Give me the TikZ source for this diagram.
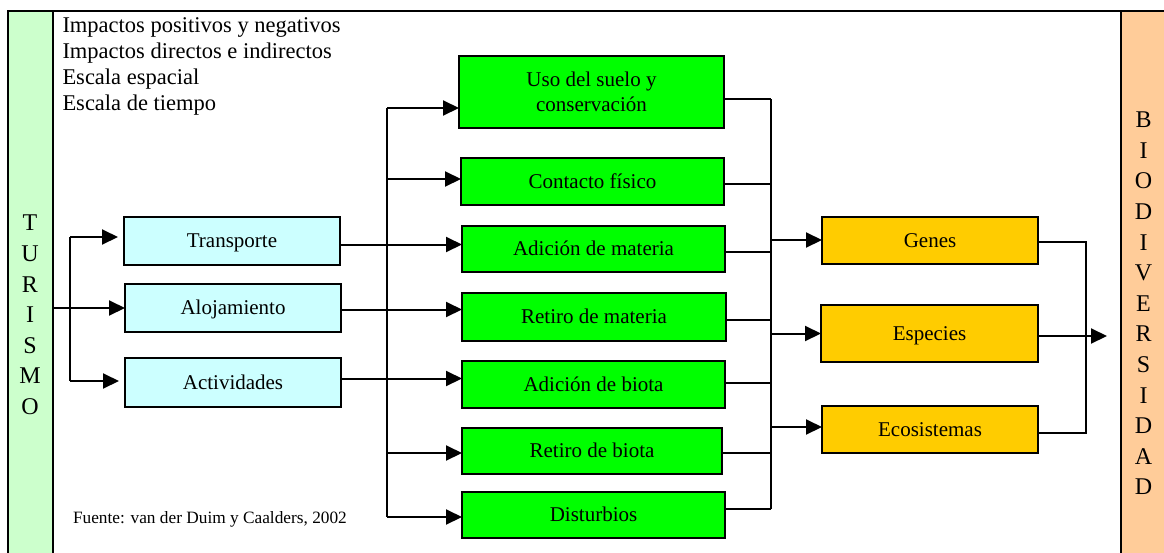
\documentclass[tikz,border=0pt]{standalone}
\usepackage{fontspec}
\setmainfont{Liberation Serif}
\usetikzlibrary{arrows.meta}
\definecolor{turgreen}{HTML}{CCFFCC}
\definecolor{actcyan}{HTML}{CCFFFF}
\definecolor{presgreen}{HTML}{00FF00}
\definecolor{levelgold}{HTML}{FFCC00}
\definecolor{bioorange}{HTML}{FFCC99}
\begin{document}
\begin{tikzpicture}[x=1pt,y=-1pt,
  every node/.style={inner sep=0pt, outer sep=0pt},
  box/.style={draw=black, line width=2pt, align=center, font=\fontsize{21}{25}\selectfont},
  oneline/.style={text height=13.9pt, text depth=0pt},
  actbox/.style={box, oneline, fill=actcyan},
  presbox/.style={box, fill=presgreen},
  levelbox/.style={box, oneline, fill=levelgold},
  band/.style={draw=black, line width=2.2pt, anchor=north west, minimum height=570pt},
  letters/.style={align=center, font=\fontsize{24}{30.6}\selectfont},
  headtext/.style={anchor=base west, font=\fontsize{22.5}{26}\selectfont},
  frame/.style={line width=2.2pt},
  conn/.style={line width=2pt},
  arr/.style={conn, -{Triangle[length=16pt,width=15pt]}},
]
\useasboundingbox (0,0) rectangle (1164,552);

% side bands
\node[band, fill=turgreen, minimum width=45pt] (turband) at (8,11) {};
\node[band, fill=bioorange, minimum width=70pt] (bioband) at (1121,11) {};
\draw[frame] (turband.north east) -- (bioband.north west);
\node[letters] (turlbl) at (30,315) {T\\U\\R\\I\\S\\M\\O};
\node[letters] (biolbl) at (1143.5,303.5) {B\\I\\O\\D\\I\\V\\E\\R\\S\\I\\D\\A\\D};

% header notes and source
\node[headtext] (h1) at (62.5,32.5) {Impactos positivos y negativos};
\node[headtext] (h2) at (62.5,58.5) {Impactos directos e indirectos};
\node[headtext] (h3) at (62.5,84.5) {Escala espacial};
\node[headtext] (h4) at (62.5,110.5) {Escala de tiempo};
\node[anchor=base west, font=\fontsize{17.3}{20}\selectfont] (src) at (73,523.3) {Fuente: van der Duim y Caalders, 2002};

% tourism components
\node[actbox, minimum width=216pt, minimum height=48pt] (trans) at (232,241) {Transporte};
\node[actbox, minimum width=216pt, minimum height=48pt] (alo) at (233,308) {Alojamiento};
\node[actbox, minimum width=216pt, minimum height=49pt] (act) at (233,382.5) {Actividades};

% pressures
\node[presbox, minimum width=265pt, minimum height=72pt] (uso) at (591.5,92) {Uso del suelo y\\conservación};
\node[presbox, oneline, minimum width=263pt, minimum height=47pt] (cont) at (592.5,181.5) {Contacto físico};
\node[presbox, oneline, minimum width=263pt, minimum height=46pt] (am) at (593.5,249) {Adición de materia};
\node[presbox, oneline, minimum width=264pt, minimum height=48pt] (rm) at (594,317) {Retiro de materia};
\node[presbox, oneline, minimum width=263pt, minimum height=47pt] (ab) at (593.5,384.5) {Adición de biota};
\node[presbox, oneline, minimum width=260pt, minimum height=46pt] (rb) at (592,451) {Retiro de biota};
\node[presbox, oneline, minimum width=263pt, minimum height=46pt] (dist) at (593.5,515) {Disturbios};

% biodiversity levels
\node[levelbox, minimum width=216pt, minimum height=47pt] (genes) at (930,240.5) {Genes};
\node[levelbox, minimum width=217pt, minimum height=57pt] (esp) at (929.5,333.5) {Especies};
\node[levelbox, minimum width=216pt, minimum height=47pt] (eco) at (930,429.5) {Ecosistemas};

% tourism -> components
\coordinate (lt) at (70,237);
\coordinate (lb) at (70,381);
\draw[arr] (turband.east |- alo.west) -- (alo.west);
\draw[conn] (lt) -- (lb);
\draw[arr, shorten >=6pt] (lt) -- (lt -| trans.west);
\draw[arr, shorten >=6pt] (lb) -- (lb -| act.west);

% components -> pressures
\coordinate (m1) at (387,108);
\coordinate (m2) at (387,179);
\coordinate (m3) at (387,244.5);
\coordinate (m4) at (387,309.5);
\coordinate (m5) at (387,378.5);
\coordinate (m6) at (387,453);
\coordinate (m7) at (387,517);
\draw[conn] (m1) -- (m7);
\draw[conn] (trans.east |- m3) -- (m3);
\draw[conn] (alo.east |- m4) -- (m4);
\draw[conn] (act.east |- m5) -- (m5);
\draw[arr] (m1) -- (m1 -| uso.west);
\draw[arr] (m2) -- (m2 -| cont.west);
\draw[arr] (m3) -- (m3 -| am.west);
\draw[arr] (m4) -- (m4 -| rm.west);
\draw[arr] (m5) -- (m5 -| ab.west);
\draw[arr] (m6) -- (m6 -| rb.west);
\draw[arr] (m7) -- (m7 -| dist.west);

% pressures -> levels
\coordinate (r1) at (771,99);
\coordinate (r2) at (771,184);
\coordinate (r3) at (771,252);
\coordinate (r4) at (771,320);
\coordinate (r5) at (771,383);
\coordinate (r6) at (771,453);
\coordinate (r7) at (771,509);
\draw[conn] (r1) -- (r7);
\draw[conn] (uso.east |- r1) -- (r1);
\draw[conn] (cont.east |- r2) -- (r2);
\draw[conn] (am.east |- r3) -- (r3);
\draw[conn] (rm.east |- r4) -- (r4);
\draw[conn] (ab.east |- r5) -- (r5);
\draw[conn] (rb.east |- r6) -- (r6);
\draw[conn] (dist.east |- r7) -- (r7);
\coordinate (g1) at (771,240);
\coordinate (g2) at (771,333.5);
\coordinate (g3) at (771,427);
\draw[arr] (g1) -- (g1 -| genes.west);
\draw[arr] (g2) -- (g2 -| esp.west);
\draw[arr] (g3) -- (g3 -| eco.west);

% levels -> biodiversity
\coordinate (k1) at (1086,242);
\coordinate (k2) at (1086,433);
\coordinate (tip) at (1107,336);
\draw[conn] (genes.east |- k1) -- (k1) -- (k2) -- (k2 -| eco.east);
\draw[arr] (esp.east |- tip) -- (tip);
\end{tikzpicture}
\end{document}
